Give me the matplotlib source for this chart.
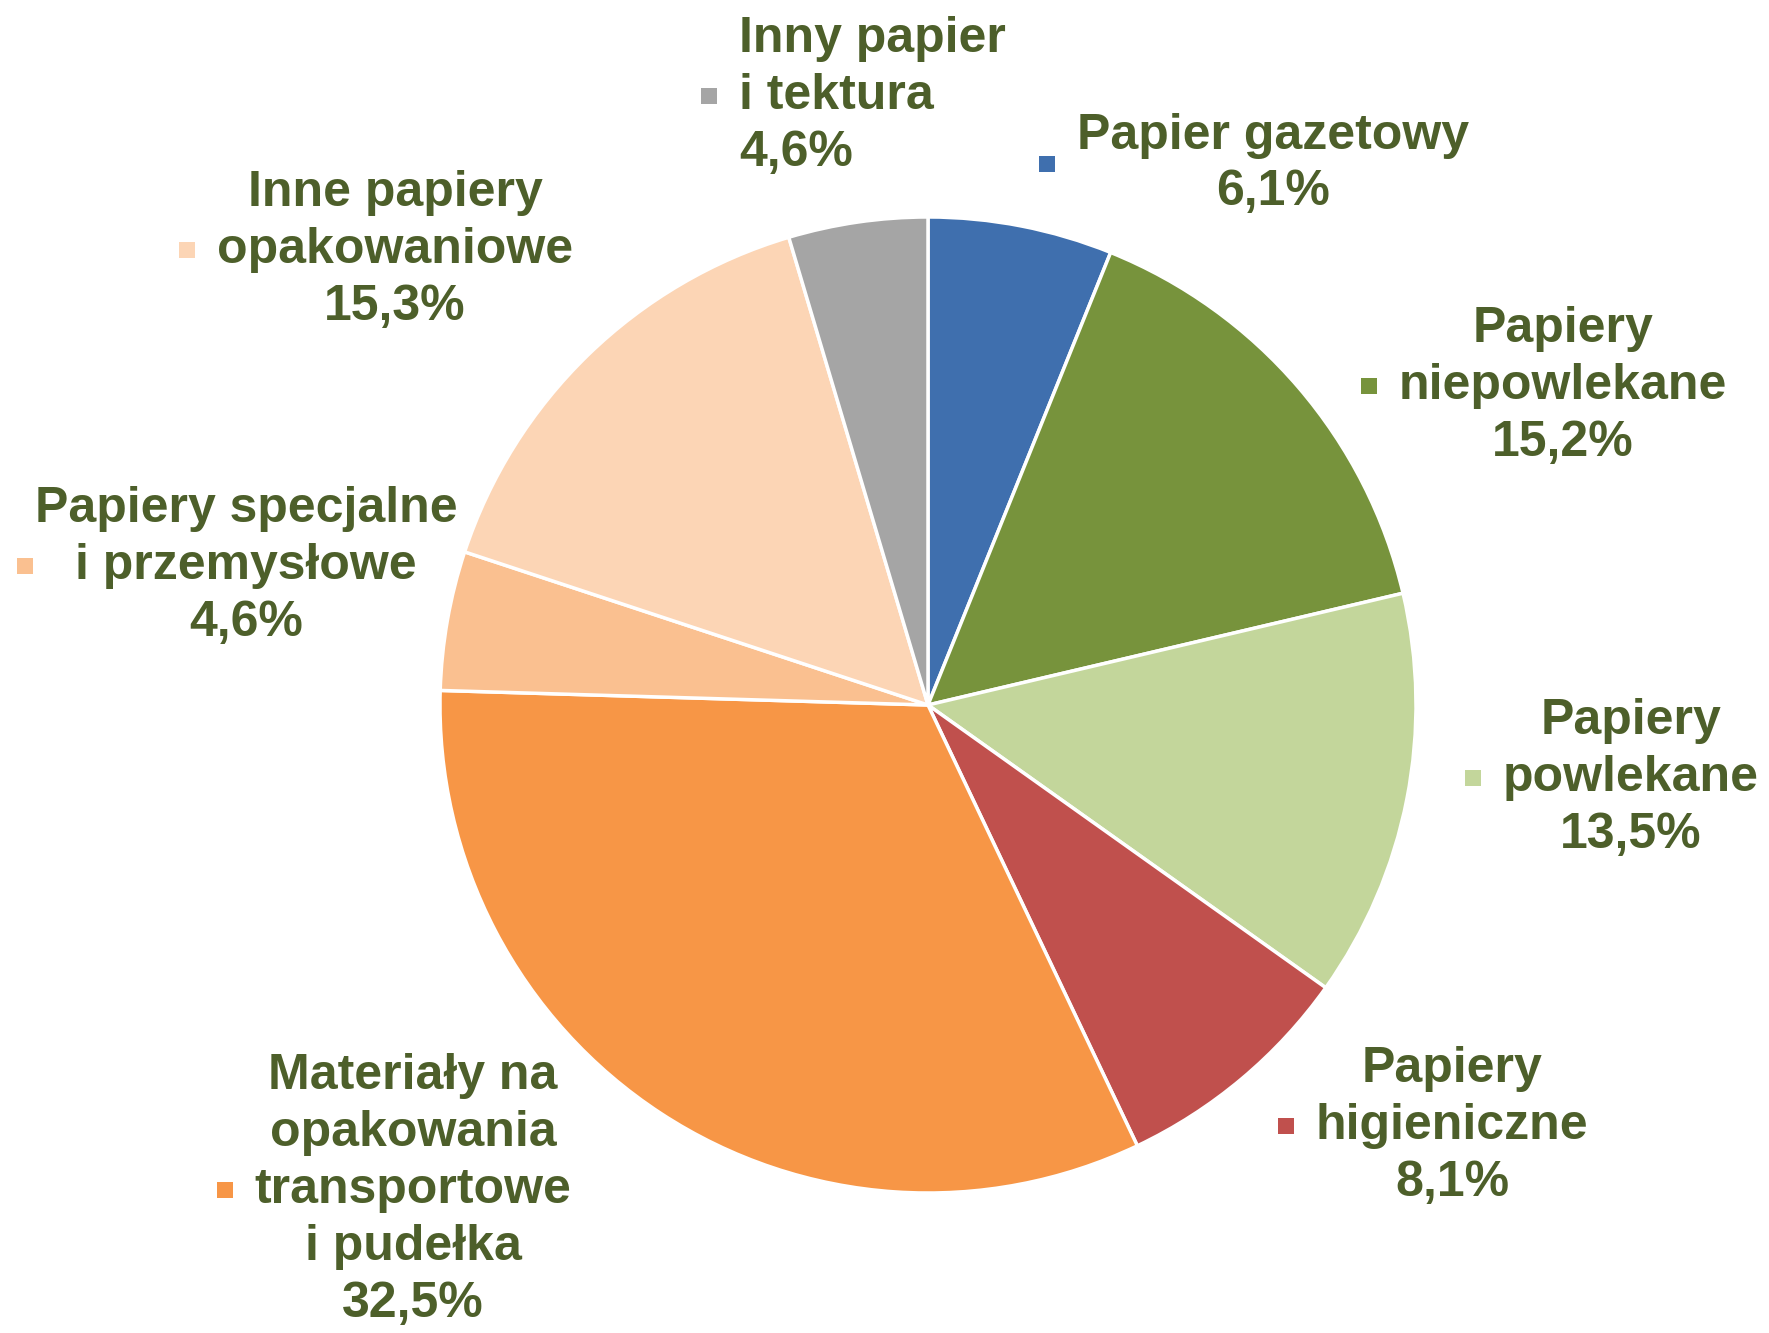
import matplotlib
matplotlib.use("Agg")
import matplotlib.pyplot as plt
from matplotlib.patches import Rectangle

# shares of paper production by grade (%), clockwise from 12 o'clock
categories = ["Papier gazetowy", "Papiery\nniepowlekane", "Papiery\npowlekane",
              "Papiery\nhigieniczne", "Materiały na\nopakowania\ntransportowe\ni pudełka",
              "Papiery specjalne\ni przemysłowe", "Inne papiery\nopakowaniowe",
              "Inny papier\ni tektura"]
shares = [6.1, 15.2, 13.5, 8.1, 32.5, 4.6, 15.3, 4.6]
colors = ["#3F6FAE", "#77933C", "#C3D69B", "#C0504D",
          "#F79646", "#FAC090", "#FCD5B5", "#A5A5A5"]
TEXT = "#4D5F2A"

W, H = 1769, 1333
# label block anchor (px from top-left) and alignment
label_pos = [(1273, 164, "center"), (1563, 386, "center"), (1631, 778, "center"),
             (1452, 1126, "center"), (413, 1190, "center"), (246, 566, "center"),
             (395, 250, "center"), (739, 96, "left")]

fig = plt.figure(figsize=(W / 100, H / 100), dpi=100)
cx, cy, r = 928, 705, 488
ax = fig.add_axes([(cx - r) / W, (H - cy - r) / H, 2 * r / W, 2 * r / H])
ax.pie(shares, colors=colors, startangle=90, counterclock=False, radius=1,
       wedgeprops=dict(edgecolor="white", linewidth=2.5))
ax.set_xlim(-1, 1); ax.set_ylim(-1, 1)
ax.set_aspect("equal")
ax.axis("off")

texts = []
for cat, v, (x, y, ha) in zip(categories, shares, label_pos):
    s = f"{cat}\n{v:.1f}".replace(".", ",") + "%"
    t = fig.text(x / W, 1 - y / H, s, ha=ha, va="center", multialignment=ha,
                 fontsize=36, fontweight="bold", color=TEXT,
                 family="Liberation Sans", linespacing=1.3)
    texts.append(t)

fig.canvas.draw()
rend = fig.canvas.get_renderer()
sq = 16
for t, c in zip(texts, colors):
    bb = t.get_window_extent(rend)
    mx = max(bb.x0 - 30, 25)          # keep the key inside the figure
    my = (bb.y0 + bb.y1) / 2
    fig.patches.append(Rectangle(((mx - sq / 2) / W, (my - sq / 2) / H), sq / W, sq / H,
                                 transform=fig.transFigure, facecolor=c,
                                 edgecolor="none", figure=fig))

fig.savefig("out.png", dpi=100, facecolor="white")
